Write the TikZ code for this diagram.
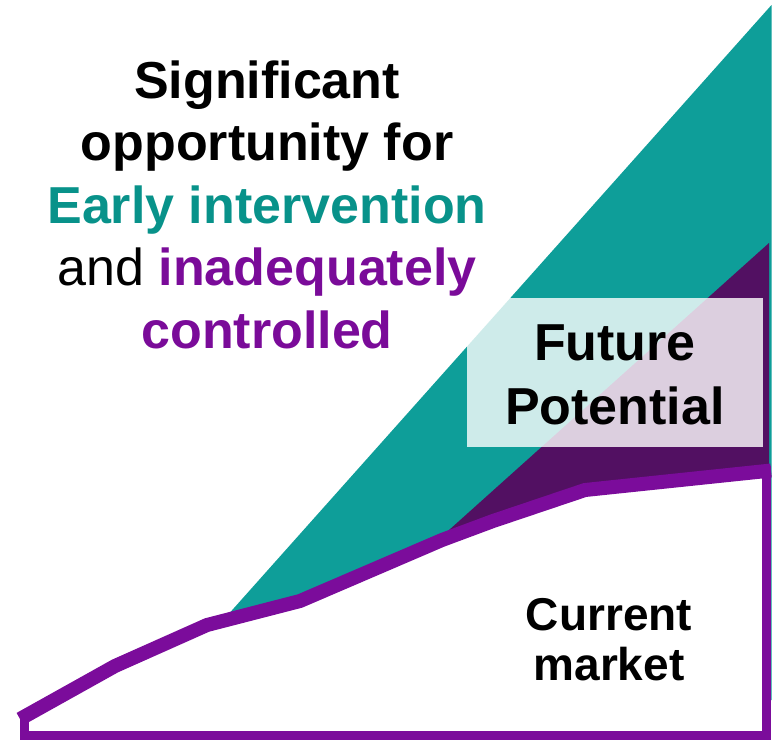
\documentclass[tikz,border=0pt]{standalone}
\usepackage{fontspec}
\setmainfont{Liberation Sans}

\definecolor{tealfill}{RGB}{14,158,153}
\definecolor{tealtxt}{RGB}{8,146,138}
\definecolor{purpline}{RGB}{123,12,155}
\definecolor{purptxt}{RGB}{122,11,153}
\definecolor{darkpurp}{RGB}{82,16,98}

\tikzset{headline/.style={anchor=base,inner sep=0pt,font=\fontsize{52}{62}\selectfont\bfseries}}
\tikzset{boxline/.style={anchor=base,inner sep=0pt,font=\fontsize{52}{62}\selectfont\bfseries}}
\tikzset{marketline/.style={anchor=base,inner sep=0pt,font=\fontsize{46}{52}\selectfont\bfseries}}

\begin{document}
\begin{tikzpicture}[x=1pt, y=-1pt]
	\useasboundingbox (0,0) rectangle (781,740);
	
	% market curve
	\foreach \px/\py [count=\i] in {20/719, 115/666, 207/625, 300/601, 442/540, 493/521, 585/490, 771/470.5}
	  \coordinate (m-\i) at (\px,\py);
	
	% growth areas
	\fill [tealfill] (771.5,5) -- (152,700) -- (771.5,700) -- cycle;
	\fill [darkpurp] (769,243) -- (371,600) -- (769,600) -- cycle;
	
	% current market
	\fill [white] (m-1) -- (m-2) -- (m-3) -- (m-4) -- (m-5) -- (m-6) -- (m-7) -- (m-8)
	  -- (766.5,735) -- (24.5,735) -- cycle;
	\draw [purpline, line width=9pt] (24.5,712) -- (24.5,735) -- (766.5,735) -- (766.5,466);
	\draw [purpline, line width=14pt] (m-1) -- (m-2) -- (m-3) -- (m-4) -- (m-5) -- (m-6) -- (m-7) -- (m-8);
	
	% headline
	\foreach \txt [count=\i from 0] in {{Significant}, {opportunity for}, {\color{tealtxt}Early intervention}, {{\mdseries and} {\color{purptxt}inadequately}}, {\color{purptxt}controlled}}
	  \node [headline] (head-\i) at (267,98+62.5*\i) {\txt};
	
	% future potential label
	\fill [white, opacity=0.8] (467,298) rectangle (763,447);
	\foreach \txt [count=\i from 0] in {Future, Potential}
	  \node [boxline] (future-\i) at (615,360+64*\i) {\txt};
	
	% current market label
	\foreach \txt [count=\i from 0] in {Current, market}
	  \node [marketline] (current-\i) at (609,630+50*\i) {\txt};
	
\end{tikzpicture}
\end{document}
